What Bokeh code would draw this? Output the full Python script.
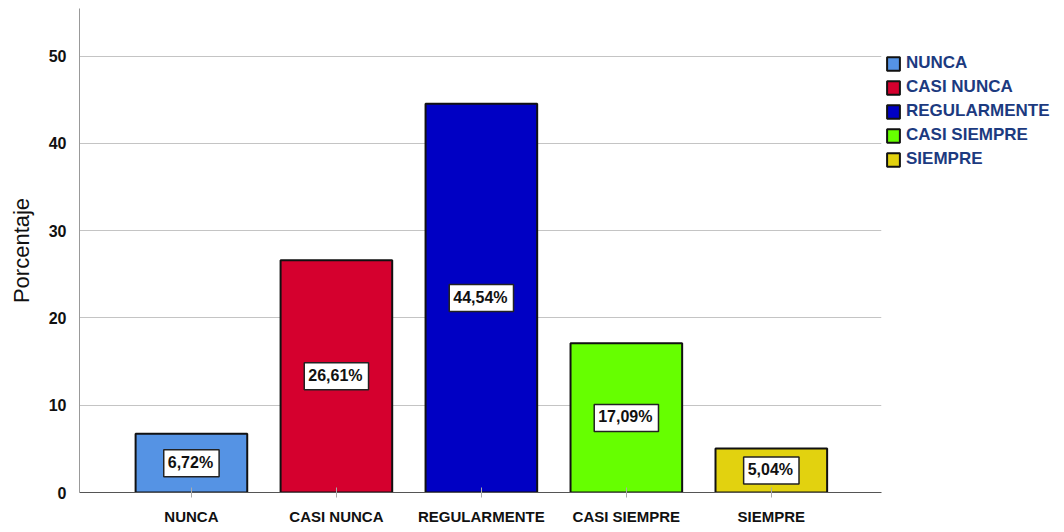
from bokeh.plotting import figure
from bokeh.models import ColumnDataSource, Range1d, FixedTicker, Legend, LegendItem
from bokeh.embed import file_html
from bokeh.resources import INLINE

categories = ["NUNCA", "CASI NUNCA", "REGULARMENTE", "CASI SIEMPRE", "SIEMPRE"]
values = [6.72, 26.61, 44.54, 17.09, 5.04]
labels = ["6,72%", "26,61%", "44,54%", "17,09%", "5,04%"]
colors = ["#5593e4", "#d5002e", "#0000c4", "#66ff00", "#e2d20f"]
y_ticks = [0, 10, 20, 30, 40, 50]

xs = list(range(len(categories)))
src = ColumnDataSource(dict(x=xs, top=values, mid=[v / 2 for v in values],
                            lab=labels, color=colors, cat=categories))

p = figure(frame_width=802, frame_height=484, output_backend="svg", toolbar_location=None,
           x_range=Range1d(-0.772, 4.76), y_range=Range1d(0, 55.45),
           min_border_left=79, min_border_right=0, min_border_top=8, min_border_bottom=40)
p.outline_line_color = None
p.background_fill_color = "white"

bars = p.vbar(x="x", top="top", width=0.77, source=src, fill_color="color",
              line_color="#111111", line_width=2)

p.text(x="x", y="mid", text="lab", source=src, text_align="center", text_baseline="middle",
       text_font_size="16px", text_font_style="bold", text_color="#111111",
       text_font={"value": "Liberation Sans"},
       background_fill_color="white", border_line_color="#222222", border_line_width=1.5,
       padding=[4, 6, 4, 6])

p.xaxis.ticker = FixedTicker(ticks=xs)
p.xaxis.major_label_overrides = {i: c for i, c in enumerate(categories)}
p.xaxis.major_label_text_font = "Liberation Sans"
p.xaxis.major_label_text_font_style = "bold"
p.xaxis.major_label_text_font_size = "15px"
p.xaxis.major_label_text_color = "#111111"
p.xaxis.major_label_standoff = 10
p.xaxis.axis_line_color = "#555555"
p.xaxis.major_tick_line_color = "#aaaaaa"
p.xaxis.major_tick_in = 5
p.xaxis.major_tick_out = 5
p.xaxis.minor_tick_line_color = None

p.yaxis.ticker = FixedTicker(ticks=y_ticks)
p.yaxis.major_label_text_font = "Liberation Sans"
p.yaxis.major_label_text_font_style = "bold"
p.yaxis.major_label_text_font_size = "16px"
p.yaxis.major_label_text_color = "#111111"
p.yaxis.axis_line_color = "#999999"
p.yaxis.major_tick_line_color = None
p.yaxis.minor_tick_line_color = None
p.yaxis.major_label_standoff = 7
p.yaxis.axis_label = "Porcentaje"
p.yaxis.axis_label_text_font = "Liberation Sans"
p.yaxis.axis_label_text_font_style = "normal"
p.yaxis.axis_label_text_font_size = "22px"
p.yaxis.axis_label_text_color = "#111111"
p.yaxis.axis_label_standoff = 12

p.xgrid.grid_line_color = None
p.ygrid.grid_line_color = "#c4c4c4"
p.ygrid.grid_line_width = 1.2

items = [LegendItem(label=c, renderers=[bars], index=i) for i, c in enumerate(categories)]
legend = Legend(items=items, location=(4, 323), orientation="vertical")
legend.label_text_font = "Liberation Sans"
legend.label_text_font_style = "bold"
legend.label_text_font_size = "17px"
legend.label_text_color = "#1c3a80"
legend.glyph_width = 16
legend.glyph_height = 17
legend.spacing = 4
legend.label_standoff = 5
legend.label_height = 17
legend.padding = 0
legend.margin = 4
legend.border_line_color = None
legend.background_fill_alpha = 0
p.add_layout(legend, "right")

open("out.html", "w").write(file_html(p, INLINE))
